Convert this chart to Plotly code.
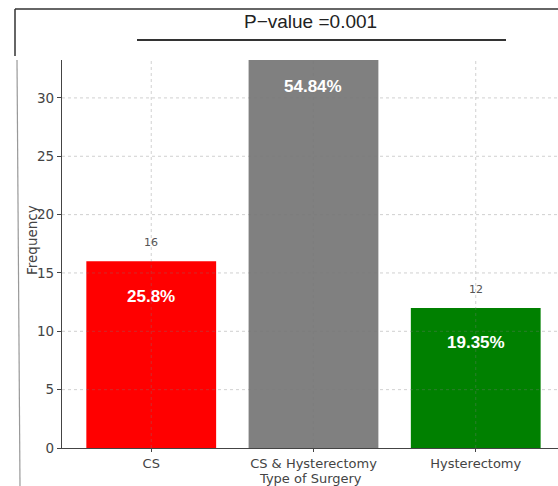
import plotly.graph_objects as go

categories = ["CS", "CS & Hysterectomy", "Hysterectomy"]
counts = [16, 34, 12]
percent_labels = ["25.8%", "54.84%", "19.35%"]
bar_colors = ["#ff0000", "#808080", "#008000"]
y_ticks = [0, 5, 10, 15, 20, 25, 30]
title_text = "P\u2212value =0.001"

fig = go.Figure()
fig.add_trace(go.Bar(
    x=list(range(len(categories))), y=counts, width=0.8,
    marker=dict(color=bar_colors, line=dict(width=0)),
    hoverinfo="skip", showlegend=False,
))

for i, (c, p) in enumerate(zip(counts, percent_labels)):
    fig.add_annotation(x=i, y=c - 3, text=p, showarrow=False,
                       font=dict(family="Liberation Sans, Arial", size=17, color="white", weight="bold"),
                       xref="x", yref="y")
    fig.add_annotation(x=i, y=c + 1.6, text=str(c), showarrow=False,
                       font=dict(family="DejaVu Sans", size=11, color="#555555"),
                       xref="x", yref="y")

grid_style = dict(color="rgba(120,120,120,0.35)", width=1, dash="dot")
for t in y_ticks[1:]:
    fig.add_shape(type="line", xref="paper", yref="y", x0=0, x1=1, y0=t, y1=t,
                  line=grid_style, layer="above")
for i in range(len(categories)):
    fig.add_shape(type="line", xref="x", yref="paper", x0=i, x1=i, y0=0, y1=1,
                  line=grid_style, layer="above")

PW, PH, L, T = 496, 388, 62, 60
def px(x):
    return (x - L) / PW
def py(y):
    return 1 + (T - y) / PH

fig.add_annotation(xref="paper", yref="paper", x=px(310), y=py(22),
                   xanchor="center", yanchor="middle",
                   text=title_text, showarrow=False,
                   font=dict(family="Liberation Sans, Arial", size=19, color="#222222"))
fig.add_shape(type="line", xref="paper", yref="paper",
              x0=px(137), x1=px(506), y0=py(40), y1=py(40),
              line=dict(color="#333333", width=2))
fig.add_shape(type="line", xref="paper", yref="paper",
              x0=px(15), x1=1.0, y0=py(9), y1=py(9),
              line=dict(color="#333333", width=1.5))
fig.add_shape(type="line", xref="paper", yref="paper",
              x0=px(15), x1=px(15), y0=py(9), y1=py(56),
              line=dict(color="#333333", width=1.5))
fig.add_shape(type="line", xref="paper", yref="paper",
              x0=px(17), x1=px(20), y0=1, y1=py(486),
              line=dict(color="#999999", width=1.2))

fig.add_annotation(xref="paper", yref="paper", x=px(310), y=py(478),
                   xanchor="center", yanchor="middle", showarrow=False,
                   text="Type of Surgery",
                   font=dict(family="DejaVu Sans", size=13, color="#444444"))
fig.add_annotation(xref="paper", yref="paper", x=px(32), y=py(240),
                   xanchor="center", yanchor="middle", showarrow=False,
                   text="Frequency", textangle=-90,
                   font=dict(family="DejaVu Sans", size=13.5, color="#444444"))

fig.update_layout(
    width=558, height=486,
    margin=dict(l=62, r=0, t=60, b=38),
    paper_bgcolor="white", plot_bgcolor="white",
    xaxis=dict(
        tickmode="array", tickvals=list(range(len(categories))), ticktext=categories,
        range=[-0.55, 2.507], showgrid=False, zeroline=False,
        showline=True, linecolor="#444444", linewidth=1.2,
        ticks="outside", ticklen=3, tickcolor="#444444",
        tickfont=dict(family="DejaVu Sans", size=13, color="#444444"),
    ),
    yaxis=dict(
        range=[0, 33.25], tickmode="array", tickvals=y_ticks,
        showgrid=False, zeroline=False,
        showline=True, linecolor="#444444", linewidth=1.2,
        ticks="outside", ticklen=4, tickcolor="#444444",
        tickfont=dict(family="DejaVu Sans", size=13.5, color="#444444"),
    ),
)

fig.write_html("out.html", config={"displayModeBar": False},
               post_script="document.body.style.margin='0px';")
